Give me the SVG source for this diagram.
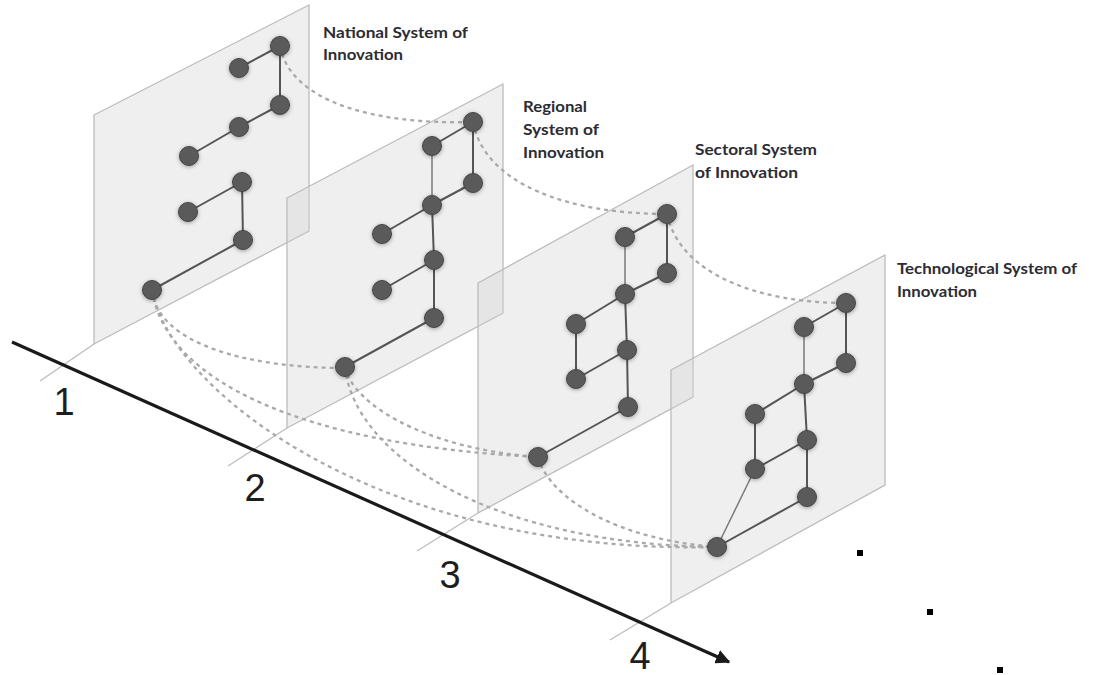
<svg xmlns="http://www.w3.org/2000/svg" width="1096" height="675" viewBox="0 0 1096 675">
<style>
.panel{fill:#d6d6d6;fill-opacity:.38;stroke:#bcbcbc;stroke-width:1.3}
.tick{stroke:#bcbcbc;stroke-width:1.3;fill:none}
.dash{fill:none;stroke:#a9a9a9;stroke-width:2.3;stroke-dasharray:4 4}
.edge{stroke:#555;stroke-width:2;fill:none}
.thin{stroke:#7a7a7a;stroke-width:1.5;fill:none}
.node{fill:#5a5a5a;stroke:#454545;stroke-width:1;filter:url(#sh)}
.lbl{font-family:Lato,"Open Sans","Liberation Sans",sans-serif;font-weight:700;font-size:15px;fill:#2c2c34}
.num{font-family:"Liberation Sans",Arial,sans-serif;font-size:38px;fill:#1e1e1e;text-anchor:middle}
</style>
<defs>
<filter id="sh" x="-80%" y="-80%" width="260%" height="260%">
<feDropShadow dx="0" dy="1" stdDeviation="2.2" flood-color="#000" flood-opacity="0.35"/>
</filter>
<marker id="arr" viewBox="0 0 10 10" refX="9" refY="5" markerWidth="4.5" markerHeight="4.5" orient="auto" markerUnits="strokeWidth">
<path d="M0,0 L10,5 L0,10 z" fill="#1a1a1a"/>
</marker>
</defs>
<rect width="1096" height="675" fill="#fff"/>

<g id="panels">
<g id="panel-national"><polygon class="panel" points="94,115 309,5 309,231 94,344"/><line class="tick" x1="40" y1="381" x2="94" y2="344"/></g>
<g id="panel-regional"><polygon class="panel" points="287,198 503,84 503,313 287,428"/><line class="tick" x1="228" y1="466" x2="287" y2="428"/></g>
<g id="panel-sectoral"><polygon class="panel" points="478,283 693,165 693,397 478,513"/><line class="tick" x1="417" y1="551" x2="478" y2="513"/></g>
<g id="panel-technological"><polygon class="panel" points="671,370 885,255 885,485 671,603"/><line class="tick" x1="610" y1="640" x2="671" y2="603"/></g>
</g>

<g id="axis">
<line x1="12" y1="342" x2="729" y2="662" stroke="#1a1a1a" stroke-width="3.2" marker-end="url(#arr)"/>
<text class="num" x="64" y="415">1</text>
<text class="num" x="255" y="501">2</text>
<text class="num" x="450" y="588">3</text>
<text class="num" x="640" y="669">4</text>
</g>

<g id="connectors">
<path class="dash" d="M280,46 C290,100 370,125 473,122"/>
<path class="dash" d="M473,122 C485,185 570,214 667,214"/>
<path class="dash" d="M667,214 C680,275 760,303 846,303"/>
<path class="dash" d="M152,290 C158,345 250,368 345,368"/>
<path class="dash" d="M152,290 C165,380 300,445 538,457"/>
<path class="dash" d="M152,290 C170,390 380,555 717,547"/>
<path class="dash" d="M345,367 C352,402 420,448 538,457"/>
<path class="dash" d="M345,367 C355,460 500,545 717,547"/>
<path class="dash" d="M538,457 C550,500 620,540 717,547"/>

<g id="edges-national">
<line class="edge" x1="239" y1="68" x2="280" y2="46"/>
<line class="edge" x1="280" y1="46" x2="280" y2="105"/>
<line class="edge" x1="280" y1="105" x2="239" y2="127"/>
<line class="edge" x1="239" y1="127" x2="189" y2="156"/>
<line class="edge" x1="188" y1="212" x2="242" y2="182"/>
<line class="edge" x1="242" y1="182" x2="243" y2="240"/>
<line class="edge" x1="243" y1="240" x2="152" y2="290"/>
</g>
<g id="edges-regional">
<line class="edge" x1="432" y1="146" x2="473" y2="122"/>
<line class="edge" x1="473" y1="122" x2="473" y2="183"/>
<line class="thin" x1="432" y1="146" x2="432" y2="205"/>
<line class="edge" x1="473" y1="183" x2="432" y2="205"/>
<line class="edge" x1="432" y1="205" x2="382" y2="234"/>
<line class="edge" x1="432" y1="205" x2="434" y2="260"/>
<line class="edge" x1="434" y1="260" x2="382" y2="290"/>
<line class="edge" x1="434" y1="260" x2="434" y2="318"/>
<line class="edge" x1="434" y1="318" x2="345" y2="367"/>
</g>
<g id="edges-sectoral">
<line class="edge" x1="625" y1="237" x2="667" y2="214"/>
<line class="edge" x1="667" y1="214" x2="667" y2="273"/>
<line class="thin" x1="625" y1="237" x2="625" y2="294"/>
<line class="edge" x1="667" y1="273" x2="625" y2="294"/>
<line class="edge" x1="625" y1="294" x2="576" y2="324"/>
<line class="edge" x1="625" y1="294" x2="627" y2="350"/>
<line class="edge" x1="576" y1="324" x2="576" y2="379"/>
<line class="edge" x1="576" y1="379" x2="627" y2="350"/>
<line class="edge" x1="627" y1="350" x2="628" y2="407"/>
<line class="edge" x1="628" y1="407" x2="538" y2="457"/>
</g>
<g id="edges-technological">
<line class="edge" x1="804" y1="327" x2="846" y2="303"/>
<line class="edge" x1="846" y1="303" x2="846" y2="363"/>
<line class="thin" x1="804" y1="327" x2="804" y2="384"/>
<line class="edge" x1="846" y1="363" x2="804" y2="384"/>
<line class="edge" x1="804" y1="384" x2="755" y2="414"/>
<line class="edge" x1="804" y1="384" x2="807" y2="440"/>
<line class="edge" x1="755" y1="414" x2="755" y2="469"/>
<line class="edge" x1="755" y1="469" x2="807" y2="440"/>
<line class="edge" x1="807" y1="440" x2="807" y2="497"/>
<line class="edge" x1="807" y1="497" x2="717" y2="547"/>
<line class="thin" x1="755" y1="469" x2="717" y2="547"/>
</g>
</g>

<g id="nodes-national">
<circle class="node" cx="280" cy="46" r="9.5"/><circle class="node" cx="239" cy="68" r="9.5"/>
<circle class="node" cx="280" cy="105" r="9.5"/><circle class="node" cx="239" cy="127" r="9.5"/>
<circle class="node" cx="189" cy="156" r="9.5"/><circle class="node" cx="242" cy="182" r="9.5"/>
<circle class="node" cx="188" cy="212" r="9.5"/><circle class="node" cx="243" cy="240" r="9.5"/>
<circle class="node" cx="152" cy="290" r="9.5"/>
</g>
<g id="nodes-regional">
<circle class="node" cx="473" cy="122" r="9.5"/><circle class="node" cx="432" cy="146" r="9.5"/>
<circle class="node" cx="473" cy="183" r="9.5"/><circle class="node" cx="432" cy="205" r="9.5"/>
<circle class="node" cx="382" cy="234" r="9.5"/><circle class="node" cx="434" cy="260" r="9.5"/>
<circle class="node" cx="382" cy="290" r="9.5"/><circle class="node" cx="434" cy="318" r="9.5"/>
<circle class="node" cx="345" cy="367" r="9.5"/>
</g>
<g id="nodes-sectoral">
<circle class="node" cx="667" cy="214" r="9.5"/><circle class="node" cx="625" cy="237" r="9.5"/>
<circle class="node" cx="667" cy="273" r="9.5"/><circle class="node" cx="625" cy="294" r="9.5"/>
<circle class="node" cx="576" cy="324" r="9.5"/><circle class="node" cx="627" cy="350" r="9.5"/>
<circle class="node" cx="576" cy="379" r="9.5"/><circle class="node" cx="628" cy="407" r="9.5"/>
<circle class="node" cx="538" cy="457" r="9.5"/>
</g>
<g id="nodes-technological">
<circle class="node" cx="846" cy="303" r="9.5"/><circle class="node" cx="804" cy="327" r="9.5"/>
<circle class="node" cx="846" cy="363" r="9.5"/><circle class="node" cx="804" cy="384" r="9.5"/>
<circle class="node" cx="755" cy="414" r="9.5"/><circle class="node" cx="807" cy="440" r="9.5"/>
<circle class="node" cx="755" cy="469" r="9.5"/><circle class="node" cx="807" cy="497" r="9.5"/>
<circle class="node" cx="717" cy="547" r="9.5"/>
</g>

<g id="labels">
<g id="label-national"><text class="lbl" x="323" y="38" textLength="145" lengthAdjust="spacingAndGlyphs">National System of</text><text class="lbl" x="323" y="60" textLength="80" lengthAdjust="spacingAndGlyphs">Innovation</text></g>
<g id="label-regional"><text class="lbl" x="523" y="112" textLength="64" lengthAdjust="spacingAndGlyphs">Regional</text><text class="lbl" x="523" y="135" textLength="76" lengthAdjust="spacingAndGlyphs">System of</text><text class="lbl" x="523" y="158" textLength="81" lengthAdjust="spacingAndGlyphs">Innovation</text></g>
<g id="label-sectoral"><text class="lbl" x="695" y="155" textLength="122" lengthAdjust="spacingAndGlyphs">Sectoral System</text><text class="lbl" x="695" y="178" textLength="103" lengthAdjust="spacingAndGlyphs">of Innovation</text></g>
<g id="label-technological"><text class="lbl" x="897" y="274" textLength="180" lengthAdjust="spacingAndGlyphs">Technological System of</text><text class="lbl" x="897" y="297" textLength="80" lengthAdjust="spacingAndGlyphs">Innovation</text></g>
</g>

<g id="dots" fill="#000">
<rect x="857" y="550" width="6" height="6"/>
<rect x="927" y="609" width="6" height="6"/>
<rect x="997" y="667" width="6" height="6"/>
</g>
</svg>
